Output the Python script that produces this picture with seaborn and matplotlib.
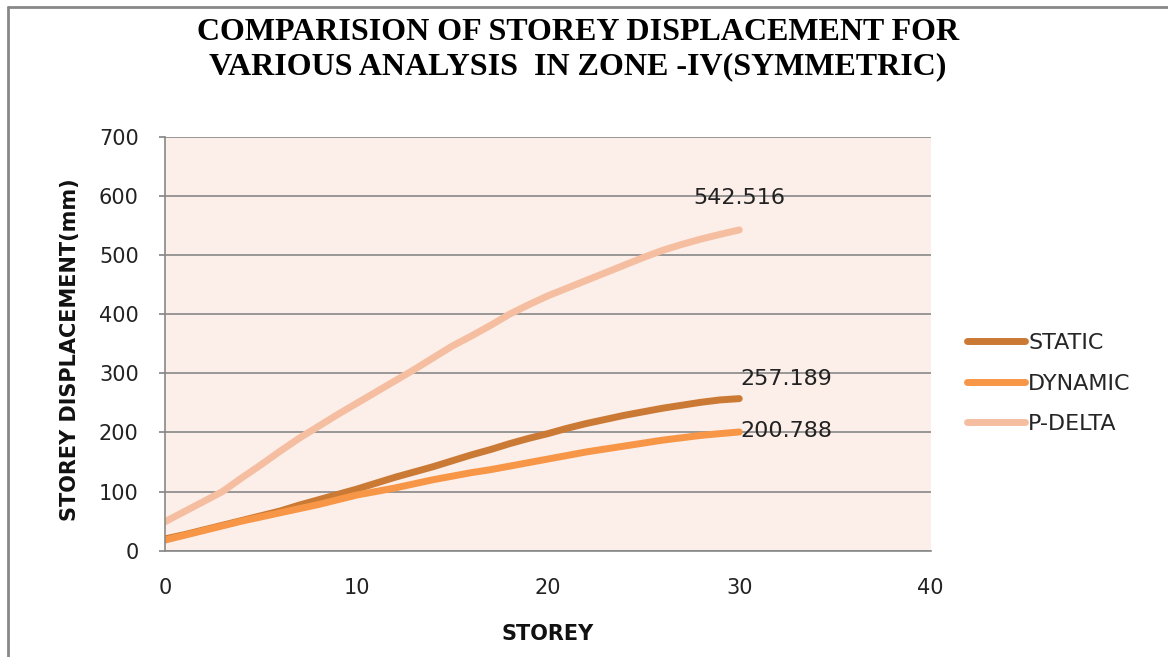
"""
Storey displacement comparison (Zone IV, symmetric) - static / dynamic / P-delta
"""

import matplotlib
matplotlib.use("Agg")
import matplotlib.pyplot as plt
from matplotlib.lines import Line2D
import seaborn as sns
import pandas as pd

# Data
storeys = list(range(0, 31))
static = [20, 27, 35, 43, 51, 59, 67, 77, 86, 95, 104, 114, 124, 133, 142, 152,
          162, 171, 181, 190, 198, 207, 215, 222, 229, 235, 241, 246, 251, 255, 257.189]
dynamic = [18, 26, 34, 42, 50, 57, 64, 71, 78, 86, 94, 100, 106, 113, 120, 126,
           132, 137, 143, 149, 155, 161, 167, 172, 177, 182, 187, 191, 195, 198, 200.788]
p_delta = [49, 66, 83, 100, 123, 145, 168, 190, 210, 230, 249, 268, 287, 306, 326, 346,
           363, 381, 400, 416, 431, 444, 457, 470, 483, 496, 508, 518, 527, 535, 542.516]
series_names = ["STATIC", "DYNAMIC", "P-DELTA"]
colors = {"STATIC": "#CB7A35", "DYNAMIC": "#F79646", "P-DELTA": "#F5BEA0"}

title_lines = ["COMPARISION OF STOREY DISPLACEMENT FOR",
               "VARIOUS ANALYSIS  IN ZONE -IV(SYMMETRIC)"]

# Style
sns.set_theme(style="white")
plt.rcParams["font.family"] = ["DejaVu Sans"]

df = pd.DataFrame({
    "storey": storeys * 3,
    "disp": static + dynamic + p_delta,
    "analysis": ["STATIC"] * len(storeys) + ["DYNAMIC"] * len(storeys) + ["P-DELTA"] * len(storeys),
})

fig = plt.figure(figsize=(11.68, 6.57), dpi=100)
ax = fig.add_axes([0.1413, 0.1618, 0.6555, 0.630])
ax.set_facecolor("#FCEEE9")

sns.lineplot(data=df, x="storey", y="disp", hue="analysis", hue_order=series_names,
             palette=colors, linewidth=5, ax=ax, legend=False,
             solid_capstyle="round", solid_joinstyle="round")

ax.set_xlim(0, 40)
ax.set_ylim(0, 700)
ax.set_xticks(range(0, 41, 10))
ax.set_yticks(range(0, 701, 100))
ax.yaxis.grid(True, color="#888888", linewidth=1.2)
ax.xaxis.grid(False)
ax.set_axisbelow(True)
for side in ["top", "right"]:
    ax.spines[side].set_visible(False)
for side in ["left", "bottom"]:
    ax.spines[side].set_color("#888888")
    ax.spines[side].set_linewidth(1.2)
ax.tick_params(axis="y", left=True, length=4, color="#888888", pad=15, labelsize=15, labelcolor="#222222")
ax.tick_params(axis="x", bottom=False, pad=13.5, labelsize=15, labelcolor="#222222")

ax.set_xlabel("STOREY", fontsize=15, fontweight="bold", color="#111111")
ax.set_ylabel("STOREY DISPLACEMENT(mm)", fontsize=15, fontweight="bold", color="#111111")
ax.xaxis.set_label_coords(0.5, -0.176)
ax.yaxis.set_label_coords(-0.111, 0.486)

# end-point value labels
ax.annotate(f"{p_delta[-1]:.3f}", (storeys[-1], p_delta[-1]), xytext=(0, 23),
            textcoords="offset points", ha="center", va="center", fontsize=16, color="#222222")
ax.annotate(f"{static[-1]:.3f}", (storeys[-1], static[-1]), xytext=(1, 14),
            textcoords="offset points", ha="left", va="center", fontsize=16, color="#222222")
ax.annotate(f"{dynamic[-1]:.3f}", (storeys[-1], dynamic[-1]), xytext=(1, 1),
            textcoords="offset points", ha="left", va="center", fontsize=16, color="#222222")

handles = [Line2D([0], [0], color=colors[n], linewidth=5, solid_capstyle="round") for n in series_names]
fig.legend(handles, series_names, loc="center left", bbox_to_anchor=(0.811, 0.416),
           frameon=False, fontsize=16, handlelength=2.6, handletextpad=0.15, labelspacing=0.92)

# title, two centered lines
fig.text(0.495, 0.951, title_lines[0], ha="center", va="center", fontsize=23,
         fontweight="bold", family="Liberation Serif", color="black")
fig.text(0.495, 0.898, title_lines[1], ha="center", va="center", fontsize=23,
         fontweight="bold", family="Liberation Serif", color="black")

# chart frame (left and top edges visible in the reference)
fig.add_artist(Line2D([0.007, 0.007], [0.0, 0.989], color="#888888", linewidth=2, transform=fig.transFigure))
fig.add_artist(Line2D([0.007, 1.0], [0.989, 0.989], color="#888888", linewidth=2, transform=fig.transFigure))

fig.savefig("out.png", dpi=100, facecolor="white")
plt.close(fig)
